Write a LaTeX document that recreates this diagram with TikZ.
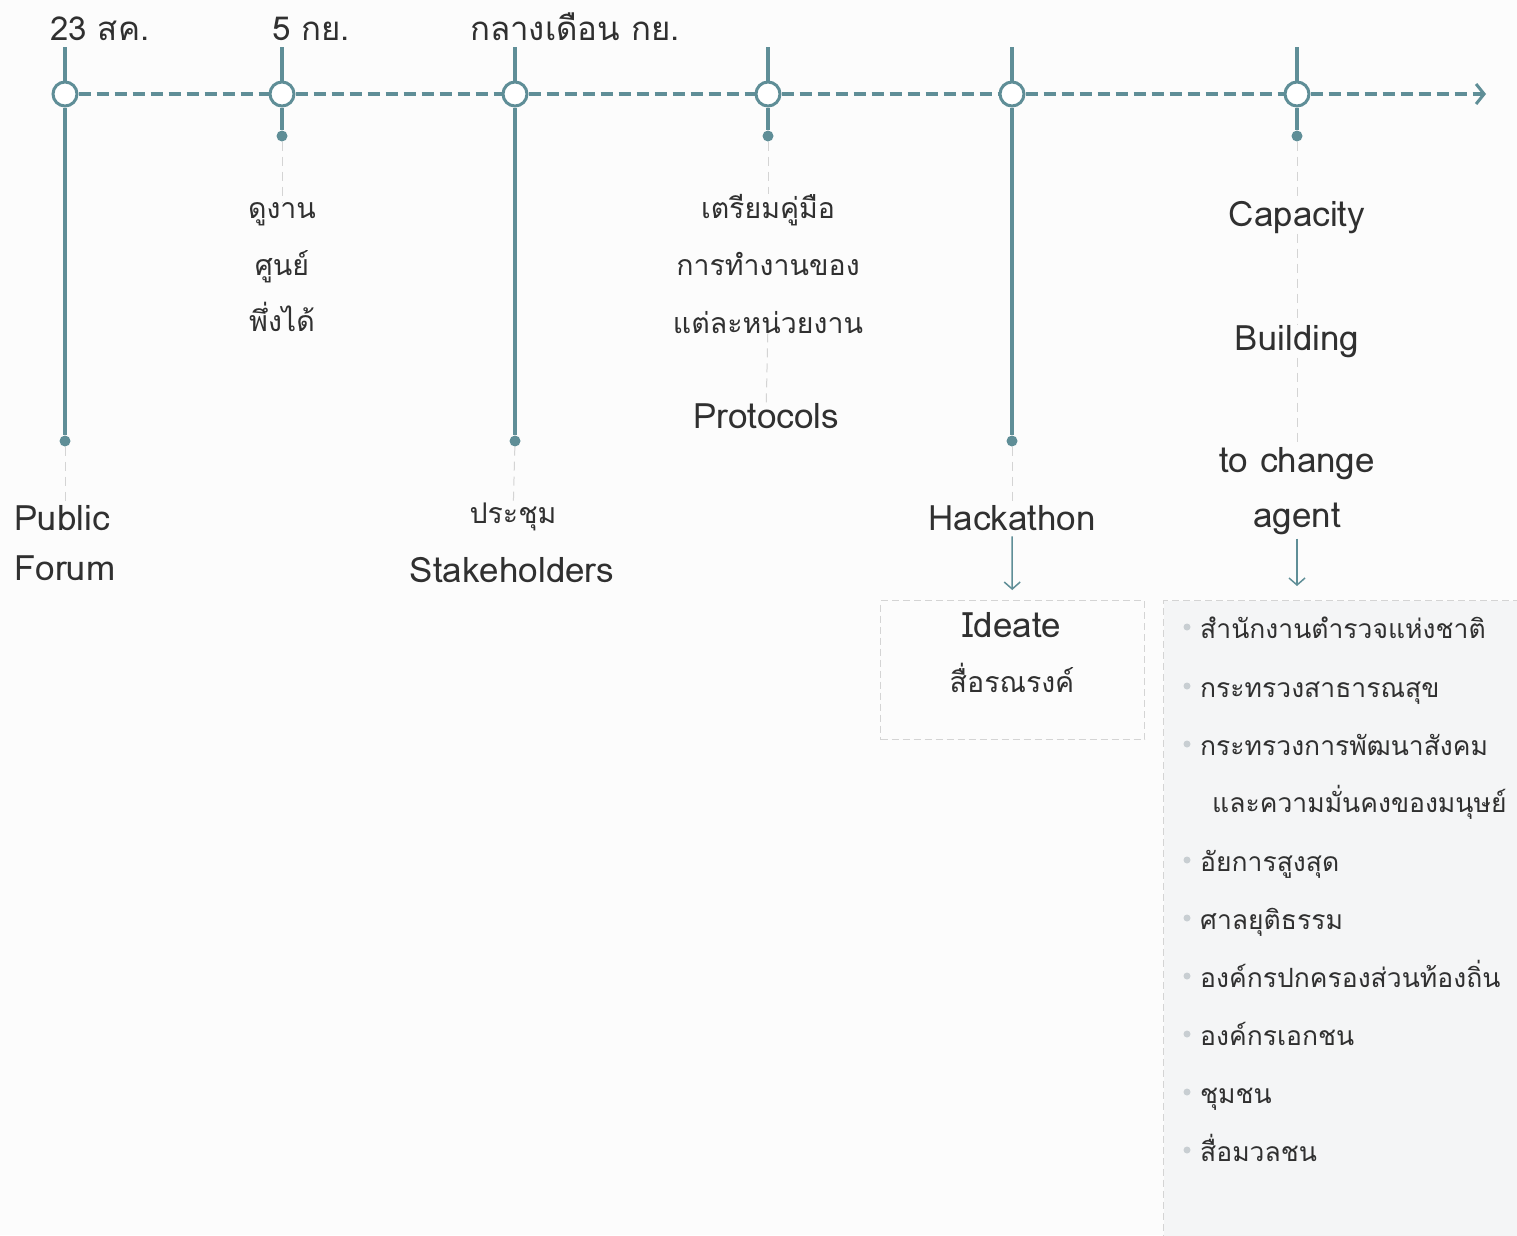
\documentclass[tikz,border=0pt]{standalone}
\usepackage{fontspec}
\setmainfont[Script=Thai]{Loma}
\usetikzlibrary{positioning,arrows.meta}

\definecolor{lineteal}{RGB}{95,142,151}
\definecolor{ink}{RGB}{48,48,48}
\definecolor{faint}{RGB}{212,212,212}
\definecolor{panel}{RGB}{244,245,246}
\definecolor{bulletgrey}{RGB}{200,206,210}

\begin{document}
\begin{tikzpicture}[x=1pt, y=-1pt,
    % node attributes
    milestone/.style = {circle, draw=lineteal, line width=3pt, fill=white,
        minimum size=24pt, inner sep=0pt},
    tipdot/.style = {circle, fill=lineteal, minimum size=11pt, inner sep=0pt},
    bullet/.style = {circle, fill=bulletgrey, minimum size=7pt, inner sep=0pt},
    thai/.style = {text=ink, inner sep=0pt, anchor=base,
        font=\fontsize{28.5}{34}\selectfont},
    latin/.style = {thai, font=\fontsize{35}{40}\selectfont},
    date/.style = {thai, anchor=base west, font=\fontsize{33}{38}\selectfont},
    item/.style = {thai, anchor=base west, font=\fontsize{26.5}{32}\selectfont},
    % line attributes
    stem/.style = {draw=lineteal, line width=4pt},
    track/.style = {draw=lineteal, line width=4pt, dash pattern=on 12pt off 6pt},
    guide/.style = {draw=faint, line width=1pt, dash pattern=on 9pt off 6pt},
    pointer/.style = {draw=lineteal, line width=1.5pt,
        -{Straight Barb[length=7pt, width=16pt]}},
    boxed/.style = {draw=faint, line width=1pt, dash pattern=on 7pt off 4pt}]

    % page
    \fill[white!99!black] (0,0) rectangle (1517,1235);
    \useasboundingbox (0,0) rectangle (1517,1235);

    % panels (behind everything)
    \node[boxed, minimum width=264pt, minimum height=139pt,
        anchor=north west] (ideabox) at (880,600) {};
    \node[boxed, fill=panel, minimum width=370pt, minimum height=650pt,
        anchor=north west] (agentbox) at (1163,600) {};

    % milestones on the time line
    \node[milestone] (m1) at (65,94) {};
    \node[milestone] (m2) at (282,94) {};
    \node[milestone] (m3) at (515,94) {};
    \node[milestone] (m4) at (768,94) {};
    \node[milestone] (m5) at (1012,94) {};
    \node[milestone] (m6) at (1297,94) {};
    \coordinate (end) at (1486,94);

    \foreach \a/\b in {m1/m2, m2/m3, m3/m4, m4/m5, m5/m6}
        \draw[track] (\a) -- (\b);
    \draw[track, -{Straight Barb[length=8pt, width=20pt, line width=3pt]}]
        (m6) -- (end);

    % stems above
    \foreach \m/\x in {m1/65, m2/282, m3/515, m4/768, m5/1012, m6/1297} {
        \coordinate (top-\m) at (\x,47);
        \draw[stem] (top-\m) -- (\m);
    }

    % stems below
    \node[tipdot] (d1) at (65,441) {};
    \node[tipdot] (d2) at (282,136) {};
    \node[tipdot] (d3) at (515,441) {};
    \node[tipdot] (d4) at (768,136) {};
    \node[tipdot] (d5) at (1012,441) {};
    \node[tipdot] (d6) at (1297,136) {};
    \foreach \i in {1,...,6}
        \draw[stem] (m\i) -- (d\i);

    % dates
    \node[date] (date1) at (50,40) {23 สค.};
    \node[date] (date2) at (272,40) {5 กย.};
    \node[date] (date3) at (470,40) {กลางเดือน กย.};

    % events
    \node[latin, anchor=base west] (forum1) at (14,530) {Public};
    \node[latin, anchor=base west] (forum2) at (14,580) {Forum};

    \node[thai] (visit1) at (282,218) {ดูงาน};
    \node[thai] (visit2) at (282,275) {ศูนย์};
    \node[thai] (visit3) at (282,331) {พึ่งได้};

    \node[thai] (meet1) at (513,523) {ประชุม};
    \node[latin] (meet2) at (512,582) {Stakeholders};

    \node[thai] (manual1) at (768,218) {เตรียมคู่มือ};
    \node[thai] (manual2) at (768,275) {การทำงานของ};
    \node[thai] (manual3) at (768,333) {แต่ละหน่วยงาน};
    \node[latin] (proto) at (766,428) {Protocols};

    \node[latin] (hack) at (1012,530) {Hackathon};

    \node[latin] (cap1) at (1297,226) {Capacity};
    \node[latin] (cap2) at (1297,350) {Building};
    \node[latin] (cap3) at (1297,472) {to change};
    \node[latin] (cap4) at (1297,527) {agent};

    % faint guides
    \draw[guide] (d1) -- (d1 |- forum1.north);
    \draw[guide] (d2) -- (visit1);
    \draw[guide] (d3) -- (meet1);
    \draw[guide] (d4) -- (manual1);
    \draw[guide] (manual3) -- (proto);
    \draw[guide] (d5) -- (hack);
    \draw[guide] (d6) -- (cap1);
    \draw[guide] (cap1) -- (cap2);
    \draw[guide] (cap2) -- (cap3);

    % outcomes
    \draw[pointer, shorten <=6pt, shorten >=10pt] (hack) -- (ideabox);
    \draw[pointer, shorten <=4pt, shorten >=14pt] (cap4) -- (cap4 |- agentbox.north);

    \node[latin] (idea1) at (1012,637) {Ideate};
    \node[thai] (idea2) at (1012,692) {สื่อรณรงค์};

    \foreach \y/\t in {627/สำนักงานตำรวจแห่งชาติ, 686/กระทรวงสาธารณสุข,
            744/กระทรวงการพัฒนาสังคม, 860/อัยการสูงสุด, 918/ศาลยุติธรรม,
            976/องค์กรปกครองส่วนท้องถิ่น, 1034/องค์กรเอกชน, 1092/ชุมชน,
            1150/สื่อมวลชน} {
        \node[bullet] at (1187,\y) {};
        \node[item] at (1200,\y+11) {\t};
    }
    \node[item] (extra) at (1212,812) {และความมั่นคงของมนุษย์};
\end{tikzpicture}
\end{document}
